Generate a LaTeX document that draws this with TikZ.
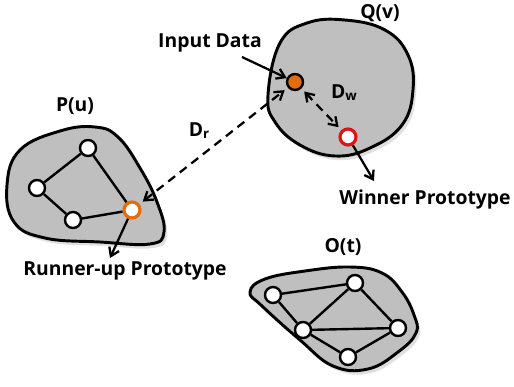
\documentclass[tikz,border=0pt]{standalone}
\usepackage{fontspec}
\setmainfont{Open Sans}
\usetikzlibrary{arrows.meta}
\definecolor{blobgray}{RGB}{191,191,191}
\definecolor{orng}{RGB}{228,108,10}
\definecolor{rd}{RGB}{220,20,20}
\tikzset{
  blob/.style={draw=black, line width=2.2pt, fill=blobgray},
  shadowblob/.style={fill=black, opacity=0.12, draw=none},
  vtx/.style={circle, draw=black, line width=1.8pt, fill=white, minimum size=12pt, inner sep=0pt},
  runner/.style={vtx, draw=orng, line width=2.4pt},
  winner/.style={vtx, draw=rd, line width=2.4pt},
  inputpt/.style={vtx, fill=orng},
  edge/.style={line width=1.8pt},
  lbl/.style={font=\bfseries\fontsize{14.5}{16}\selectfont, inner sep=0pt},
  ptr/.style={line width=1.7pt, -{Straight Barb[length=6pt,width=8pt]}},
  dist/.style={line width=1.7pt, dash pattern=on 6.5pt off 4.5pt, {Straight Barb[length=6pt,width=8pt]}-{Straight Barb[length=6pt,width=8pt]}, shorten <=3pt, shorten >=3pt}
}
\begin{document}
\begin{tikzpicture}[x=0.75pt,y=-0.75pt]
\useasboundingbox (0,0) rectangle (514,386);
% shadows
\begin{scope}[shift={(3,4)}]
\fill[shadowblob] plot[smooth cycle, tension=0.7] coordinates {(7,185) (20,150) (60,131) (95,127) (118,137) (140,168) (157,202) (164,232) (150,244) (100,242) (45,238) (14,222)};
\fill[shadowblob] plot[smooth cycle, tension=0.7] coordinates {(280,43) (307,23) (345,20) (385,30) (408,55) (413,90) (402,125) (370,148) (335,156) (300,145) (275,122) (268,95)};
\fill[shadowblob] plot[smooth cycle, tension=0.7] coordinates {(250,292) (265,279) (305,271) (350,267) (382,273) (402,292) (414,315) (416,333) (398,352) (368,369) (333,366) (300,340) (262,306)};
\end{scope}
% blobs
\draw[blob] plot[smooth cycle, tension=0.7] coordinates {(7,185) (20,150) (60,131) (95,127) (118,137) (140,168) (157,202) (164,232) (150,244) (100,242) (45,238) (14,222)};
\draw[blob] plot[smooth cycle, tension=0.7] coordinates {(280,43) (307,23) (345,20) (385,30) (408,55) (413,90) (402,125) (370,148) (335,156) (300,145) (275,122) (268,95)};
\draw[blob] plot[smooth cycle, tension=0.7] coordinates {(250,292) (265,279) (305,271) (350,267) (382,273) (402,292) (414,315) (416,333) (398,352) (368,369) (333,366) (300,340) (262,306)};
% labels of clusters
\node[lbl] (pu) at (75,106) {P(u)};
\node[lbl] (qv) at (380,13) {Q(v)};
\node[lbl] (ot) at (343,247) {O(t)};
% P nodes
\node[vtx] (p1) at (88,148) {};
\node[vtx] (p2) at (37,188) {};
\node[vtx] (p3) at (73,220) {};
\node[runner] (pr) at (132,210) {};
\draw[edge] (p1) -- (p2) (p2) -- (p3) (p3) -- (pr) (pr) -- (p1);
% O nodes
\node[vtx] (o1) at (273,295) {};
\node[vtx] (o2) at (355,283) {};
\node[vtx] (o3) at (303,330) {};
\node[vtx] (o4) at (398,328) {};
\node[vtx] (o5) at (348,357) {};
\draw[edge] (o1) -- (o2) (o1) -- (o3) (o2) -- (o3) (o2) -- (o4) (o3) -- (o4) (o3) -- (o5) (o5) -- (o4);
% Q nodes
\node[inputpt] (in) at (295,82) {};
\node[winner] (win) at (348,137) {};
% texts
\node[lbl] (indata) at (210,43) {Input Data};
\node[lbl] (dr) at (199,131) {D\raisebox{-1.5pt}{\fontsize{10}{11}\selectfont r}};
\node[lbl] (dw) at (344,93) {D\raisebox{-1.5pt}{\fontsize{10}{11}\selectfont w}};
\node[lbl] (wtxt) at (425,199) {Winner Prototype};
\node[lbl] (rtxt) at (125,271) {Runner-up Prototype};
% arrows
\coordinate (instart) at (242,57);
\coordinate (rend) at (110,258);
\coordinate (wend) at (374,181);
\draw[ptr] (instart) -- (in);
\draw[ptr] (pr) -- (rend);
\draw[ptr] (win) -- (wend);
\draw[dist] (pr) -- (in);
\draw[dist] (in) -- (win);
\end{tikzpicture}
\end{document}
